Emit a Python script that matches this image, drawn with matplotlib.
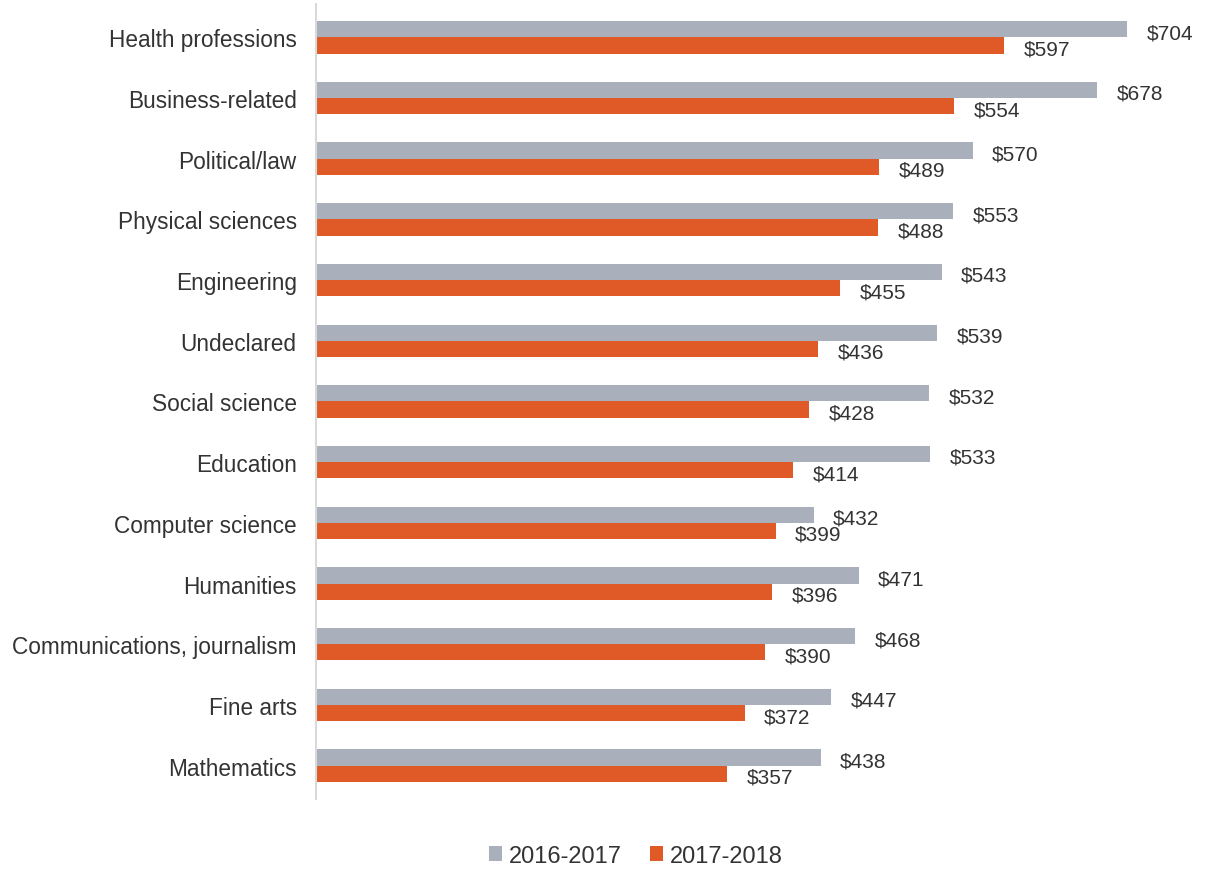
import matplotlib.pyplot as plt
import numpy as np

plt.rcParams['font.family'] = ['Liberation Sans', 'DejaVu Sans']

# Datos
categorias = ["Health professions", "Business-related", "Political/law", "Physical sciences",
              "Engineering", "Undeclared", "Social science", "Education", "Computer science",
              "Humanities", "Communications, journalism", "Fine arts", "Mathematics"]
valores_2016 = [704, 678, 570, 553, 543, 539, 532, 533, 432, 471, 468, 447, 438]
valores_2017 = [597, 554, 489, 488, 455, 436, 428, 414, 399, 396, 390, 372, 357]
series = ["2016-2017", "2017-2018"]

color_gris = '#A9B0BC'
color_naranja = '#E05A28'
color_texto = '#333333'

fig = plt.figure(figsize=(12.11, 8.70), dpi=100)
ax = fig.add_axes([0.261, 0.0805, 0.7135, 0.9138])

y = np.arange(len(categorias))
h = 0.268

b1 = ax.barh(y - h / 2, valores_2016, height=h, color=color_gris, label=series[0])
b2 = ax.barh(y + h / 2, valores_2017, height=h, color=color_naranja, label=series[1])

# Etiquetas de valores
for barras, vals in [(b1, valores_2016), (b2, valores_2017)]:
    for rect, v in zip(barras, vals):
        ax.annotate(f"${v}", (rect.get_width(), rect.get_y() + rect.get_height() / 2),
                    xytext=(14, -2.5), textcoords='offset points',
                    ha='left', va='center', fontsize=15, color=color_texto)

ax.set_xlim(0, 750)
ax.set_ylim(len(categorias) - 0.45, -0.55)
ax.set_yticks(y)
ax.set_yticklabels(categorias, fontsize=16.3, color=color_texto)
ax.tick_params(axis='y', length=0, pad=14)
ax.set_xticks([])

for lado in ['top', 'right', 'bottom']:
    ax.spines[lado].set_visible(False)
ax.spines['left'].set_color('#D9D9D9')
ax.spines['left'].set_linewidth(1.5)

fig.legend(handles=[b1, b2], labels=series, loc='lower center', bbox_to_anchor=(0.525, -0.022),
           ncol=2, frameon=False, fontsize=17, handlelength=0.55, handleheight=0.55,
           handletextpad=0.3, columnspacing=1.2, labelcolor=color_texto)

plt.savefig("out.png", dpi=100)
plt.close()
